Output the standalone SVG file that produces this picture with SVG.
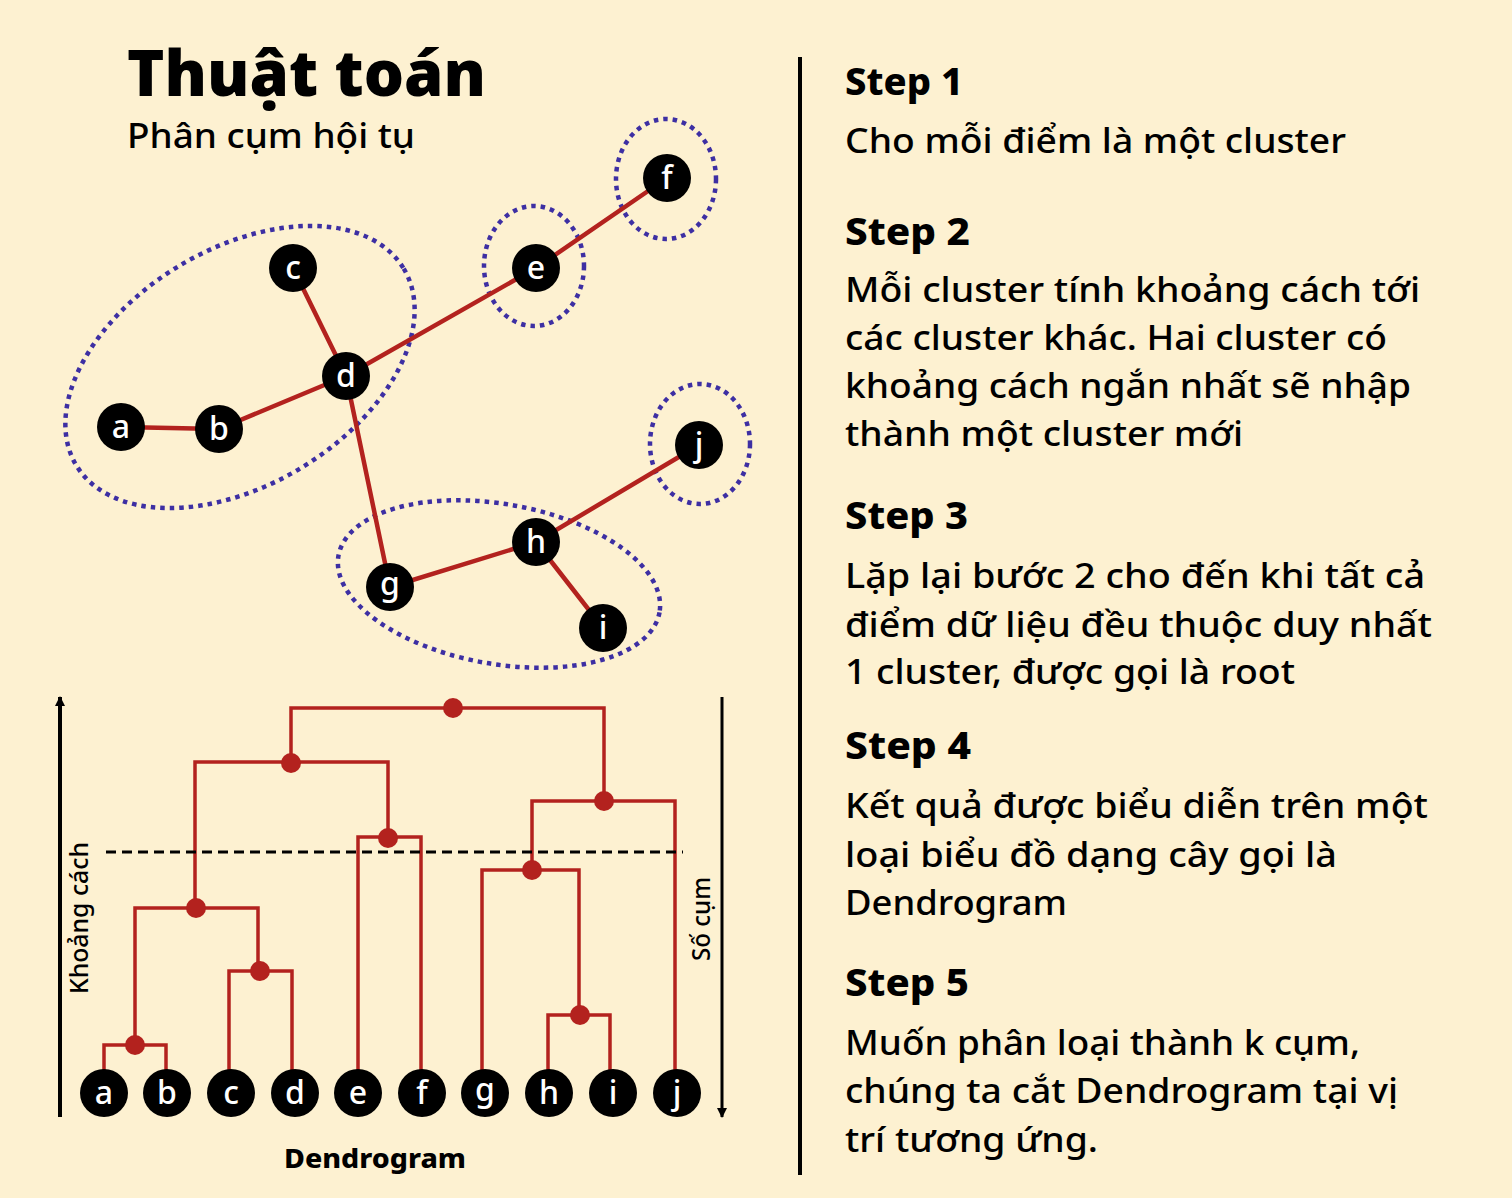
<svg xmlns="http://www.w3.org/2000/svg" width="1512" height="1198" viewBox="0 0 1512 1198">
<defs>
<style>
.bg{fill:#fdf1d1}
.edge{stroke:#b3221e;stroke-width:4.5;stroke-linecap:round;fill:none}
.dl{stroke:#b3221e;stroke-width:3.5;fill:none;stroke-linejoin:miter}
.dot{fill:#b3221e}
.ring{fill:none;stroke:#3d2fa3;stroke-width:4.5;stroke-dasharray:4.5 5}
.node circle{fill:#000}
.lbl{font-family:"Noto Sans","Open Sans",sans-serif;font-size:32px;font-weight:500;fill:#fff;text-anchor:middle}
.title{font-family:"Noto Sans","Open Sans",sans-serif;font-weight:900;font-size:64px;fill:#000}
.sub{font-family:"Noto Sans","Open Sans",sans-serif;font-size:34px;font-weight:500;fill:#000}
.h{font-family:"Noto Sans","Open Sans",sans-serif;font-weight:800;font-size:38px;fill:#000}
.b{font-family:"Noto Sans","Open Sans",sans-serif;font-size:34px;font-weight:500;fill:#000}
.ax{font-family:"Noto Sans","Open Sans",sans-serif;font-size:26px;font-weight:500;fill:#000}
.axb{font-family:"Noto Sans","Open Sans",sans-serif;font-weight:800;font-size:27px;fill:#000}
</style>
<marker id="ah" markerWidth="10" markerHeight="10" refX="9" refY="5" orient="auto" markerUnits="userSpaceOnUse" viewBox="0 0 10 10">
<path d="M0,0 L10,5 L0,10 z" fill="#000"/>
</marker>
</defs>
<rect class="bg" x="0" y="0" width="1512" height="1198"/>

<g id="title">
<text class="title" x="127" y="96" textLength="359" lengthAdjust="spacingAndGlyphs">Thuật toán</text>
<text class="sub" x="127" y="148" textLength="288" lengthAdjust="spacingAndGlyphs">Phân cụm hội tụ</text>
</g>

<g id="clusters">
<ellipse class="ring" cx="240" cy="367" rx="191" ry="118" transform="rotate(-31 240 367)"/>
<ellipse class="ring" cx="534" cy="266" rx="50" ry="60"/>
<ellipse class="ring" cx="666" cy="179" rx="50" ry="60"/>
<ellipse class="ring" cx="700" cy="444" rx="50" ry="60"/>
<ellipse class="ring" cx="499" cy="584" rx="163" ry="80" transform="rotate(10 499 584)"/>
</g>

<g id="connectors">
<line class="edge" x1="121" y1="427" x2="219" y2="429"/>
<line class="edge" x1="219" y1="429" x2="346" y2="376"/>
<line class="edge" x1="293" y1="268" x2="346" y2="376"/>
<line class="edge" x1="346" y1="376" x2="536" y2="268"/>
<line class="edge" x1="536" y1="268" x2="667" y2="178"/>
<line class="edge" x1="346" y1="376" x2="390" y2="587"/>
<line class="edge" x1="390" y1="587" x2="536" y2="542"/>
<line class="edge" x1="536" y1="542" x2="603" y2="628"/>
<line class="edge" x1="536" y1="542" x2="699" y2="445"/>
</g>

<g id="node-a" class="node"><circle cx="121" cy="427" r="24"/><text class="lbl" x="121" y="438">a</text></g>
<g id="node-b" class="node"><circle cx="219" cy="429" r="24"/><text class="lbl" x="219" y="440">b</text></g>
<g id="node-c" class="node"><circle cx="293" cy="268" r="24"/><text class="lbl" x="293" y="279">c</text></g>
<g id="node-d" class="node"><circle cx="346" cy="376" r="24"/><text class="lbl" x="346" y="387">d</text></g>
<g id="node-e" class="node"><circle cx="536" cy="268" r="24"/><text class="lbl" x="536" y="279">e</text></g>
<g id="node-f" class="node"><circle cx="667" cy="178" r="24"/><text class="lbl" x="667" y="189">f</text></g>
<g id="node-g" class="node"><circle cx="390" cy="587" r="24"/><text class="lbl" x="390" y="595">g</text></g>
<g id="node-h" class="node"><circle cx="536" cy="542" r="24"/><text class="lbl" x="536" y="553">h</text></g>
<g id="node-i" class="node"><circle cx="603" cy="628" r="24"/><text class="lbl" x="603" y="639">i</text></g>
<g id="node-j" class="node"><circle cx="699" cy="445" r="24"/><text class="lbl" x="699" y="456">j</text></g>

<g id="dendrogram">
<g id="dendro-links">
<polyline class="dl" points="104,1070 104,1045 166,1045 166,1070"/>
<polyline class="dl" points="229,1070 229,971 292,971 292,1070"/>
<polyline class="dl" points="135,1045 135,908 258,908 258,971"/>
<polyline class="dl" points="358,1070 358,837 421,837 421,1070"/>
<polyline class="dl" points="195,908 195,762 388,762 388,837"/>
<polyline class="dl" points="548,1070 548,1015 610,1015 610,1070"/>
<polyline class="dl" points="482,1070 482,870 579,870 579,1015"/>
<polyline class="dl" points="532,870 532,801 675,801 675,1070"/>
<polyline class="dl" points="291,762 291,708 604,708 604,801"/>
</g>
<line x1="106" y1="852" x2="683" y2="852" stroke="#000" stroke-width="3" stroke-dasharray="10 6"/>
<g id="merge-dots">
<circle class="dot" cx="135" cy="1045" r="10"/>
<circle class="dot" cx="260" cy="971" r="10"/>
<circle class="dot" cx="196" cy="908" r="10"/>
<circle class="dot" cx="388" cy="838" r="10"/>
<circle class="dot" cx="291" cy="763" r="10"/>
<circle class="dot" cx="453" cy="708" r="10"/>
<circle class="dot" cx="580" cy="1015" r="10"/>
<circle class="dot" cx="532" cy="870" r="10"/>
<circle class="dot" cx="604" cy="801" r="10"/>
</g>
<g id="leaf-a" class="node"><circle cx="104" cy="1093" r="24"/><text class="lbl" x="104" y="1104">a</text></g>
<g id="leaf-b" class="node"><circle cx="167" cy="1093" r="24"/><text class="lbl" x="167" y="1104">b</text></g>
<g id="leaf-c" class="node"><circle cx="231" cy="1093" r="24"/><text class="lbl" x="231" y="1104">c</text></g>
<g id="leaf-d" class="node"><circle cx="295" cy="1093" r="24"/><text class="lbl" x="295" y="1104">d</text></g>
<g id="leaf-e" class="node"><circle cx="358" cy="1093" r="24"/><text class="lbl" x="358" y="1104">e</text></g>
<g id="leaf-f" class="node"><circle cx="422" cy="1093" r="24"/><text class="lbl" x="422" y="1104">f</text></g>
<g id="leaf-g" class="node"><circle cx="485" cy="1093" r="24"/><text class="lbl" x="485" y="1101">g</text></g>
<g id="leaf-h" class="node"><circle cx="549" cy="1093" r="24"/><text class="lbl" x="549" y="1104">h</text></g>
<g id="leaf-i" class="node"><circle cx="613" cy="1093" r="24"/><text class="lbl" x="613" y="1104">i</text></g>
<g id="leaf-j" class="node"><circle cx="677" cy="1093" r="24"/><text class="lbl" x="677" y="1104">j</text></g>
<g id="axes">
<line x1="60" y1="1117" x2="60" y2="697" stroke="#000" stroke-width="4" marker-end="url(#ah)"/>
<line x1="722" y1="697" x2="722" y2="1117" stroke="#000" stroke-width="3" marker-end="url(#ah)"/>
<text class="ax" transform="translate(88 994) rotate(-90)" textLength="152" lengthAdjust="spacingAndGlyphs">Khoảng cách</text>
<text class="ax" transform="translate(710 961) rotate(-90)" textLength="84" lengthAdjust="spacingAndGlyphs">Số cụm</text>
<text class="axb" x="284" y="1168" textLength="182" lengthAdjust="spacingAndGlyphs">Dendrogram</text>
</g>
</g>

<line id="divider" x1="800" y1="57" x2="800" y2="1175" stroke="#000" stroke-width="4"/>

<g id="steps">
<text class="h" x="845" y="95" textLength="118" lengthAdjust="spacingAndGlyphs">Step 1</text>
<text class="b" x="845" y="153" textLength="501" lengthAdjust="spacingAndGlyphs">Cho mỗi điểm là một cluster</text>

<text class="h" x="845" y="245" textLength="125" lengthAdjust="spacingAndGlyphs">Step 2</text>
<text class="b" x="845" y="302" textLength="575" lengthAdjust="spacingAndGlyphs">Mỗi cluster tính khoảng cách tới</text>
<text class="b" x="845" y="350" textLength="542" lengthAdjust="spacingAndGlyphs">các cluster khác. Hai cluster có</text>
<text class="b" x="845" y="398" textLength="566" lengthAdjust="spacingAndGlyphs">khoảng cách ngắn nhất sẽ nhập</text>
<text class="b" x="845" y="446" textLength="398" lengthAdjust="spacingAndGlyphs">thành một cluster mới</text>

<text class="h" x="845" y="529" textLength="123" lengthAdjust="spacingAndGlyphs">Step 3</text>
<text class="b" x="845" y="588" textLength="580" lengthAdjust="spacingAndGlyphs">Lặp lại bước 2 cho đến khi tất cả</text>
<text class="b" x="845" y="637" textLength="587" lengthAdjust="spacingAndGlyphs">điểm dữ liệu đều thuộc duy nhất</text>
<text class="b" x="845" y="684" textLength="450" lengthAdjust="spacingAndGlyphs">1 cluster, được gọi là root</text>

<text class="h" x="845" y="759" textLength="126" lengthAdjust="spacingAndGlyphs">Step 4</text>
<text class="b" x="845" y="818" textLength="583" lengthAdjust="spacingAndGlyphs">Kết quả được biểu diễn trên một</text>
<text class="b" x="845" y="867" textLength="492" lengthAdjust="spacingAndGlyphs">loại biểu đồ dạng cây gọi là</text>
<text class="b" x="845" y="915" textLength="222" lengthAdjust="spacingAndGlyphs">Dendrogram</text>

<text class="h" x="845" y="996" textLength="124" lengthAdjust="spacingAndGlyphs">Step 5</text>
<text class="b" x="845" y="1055" textLength="515" lengthAdjust="spacingAndGlyphs">Muốn phân loại thành k cụm,</text>
<text class="b" x="845" y="1103" textLength="553" lengthAdjust="spacingAndGlyphs">chúng ta cắt Dendrogram tại vị</text>
<text class="b" x="845" y="1152" textLength="253" lengthAdjust="spacingAndGlyphs">trí tương ứng.</text>
</g>
</svg>
